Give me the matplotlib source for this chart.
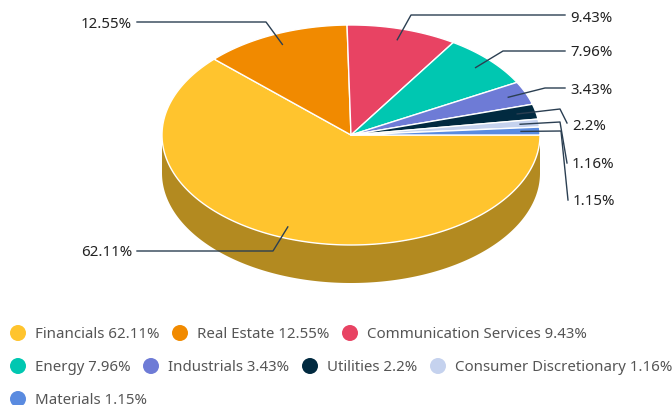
import numpy as np
import matplotlib
matplotlib.use("Agg")
import matplotlib.pyplot as plt
from matplotlib.patches import Circle, Polygon

plt.rcParams['font.family'] = ['Noto Sans', 'DejaVu Sans']

sectors = ["Financials", "Real Estate", "Communication Services", "Energy",
           "Industrials", "Utilities", "Consumer Discretionary", "Materials"]
weights = [62.11, 12.55, 9.43, 7.96, 3.43, 2.2, 1.16, 1.15]
colors = ["#FFC42E", "#F18A00", "#E84363", "#00C7B1",
          "#6E7BD6", "#012A40", "#C5D2EE", "#5A8BE0"]
side_color = "#B38A20"

# pie geometry, in pixels
cx, cy = 351, 135
rx, ry = 189, 110
depth = 38

# leader line elbow and end, one per slice
elbows = [(273, 251), (266, 22), (411, 15), (503, 51),
          (545, 88), (560, 109), (560, 122), (561, 131)]
ends = [(137, 251), (137, 22), (565, 15), (565, 51),
        (565, 88), (567, 123), (567, 163), (568, 200)]
label_y = [252, 23, 17, 52, 89, 126, 164, 201]

# legend layout: (marker x, row y)
legend_pos = [(18, 333), (180, 333), (350, 333), (18, 366),
              (151, 366), (310, 366), (438, 366), (18, 399)]


def rim(a0, a1):
    t = np.radians(np.linspace(a0, a1, 200))
    return cx + rx * np.cos(t), cy + ry * np.sin(t)


fig = plt.figure(figsize=(6.72, 4.06), dpi=100)
ax = fig.add_axes([0, 0, 1, 1])
ax.set_xlim(0, 672)
ax.set_ylim(405, -1)
ax.axis("off")

# side wall, only the front half shows
x, y = rim(0, 180)
wall = np.vstack([np.column_stack([x, y]), np.column_stack([x[::-1], y[::-1] + depth])])
ax.add_patch(Polygon(wall, closed=True, fc=side_color, ec="none"))

# top slices, clockwise from the east
edges = np.concatenate([[0], np.cumsum(weights)]) / sum(weights) * 360
for i, w in enumerate(weights):
    x, y = rim(edges[i], edges[i + 1])
    pts = np.vstack([[cx, cy], np.column_stack([x, y])])
    ax.add_patch(Polygon(pts, closed=True, fc=colors[i], ec="white", lw=1, joinstyle="round"))

# leader lines and value labels
mids = np.radians((edges[:-1] + edges[1:]) / 2)
for i, w in enumerate(weights):
    sx = cx + 0.9 * rx * np.cos(mids[i])
    sy = cy + 0.9 * ry * np.sin(mids[i])
    ax.plot([sx, elbows[i][0], ends[i][0]], [sy, elbows[i][1], ends[i][1]],
            color="#2B3F52", lw=1, solid_joinstyle="round")
    left = ends[i][0] < cx
    ax.text(ends[i][0] + (-5 if left else 5), label_y[i], f"{w:g}%",
            ha="right" if left else "left", va="center", fontsize=10.8, color="#222222")

# legend
for i, (name, w) in enumerate(zip(sectors, weights)):
    lx, ly = legend_pos[i]
    ax.add_patch(Circle((lx, ly), 8, fc=colors[i], ec="none"))
    ax.text(lx + 17, ly + 1, f"{name} {w:g}%", ha="left", va="center",
            fontsize=10.8, color="#555555")

fig.savefig("out.png", dpi=100)
